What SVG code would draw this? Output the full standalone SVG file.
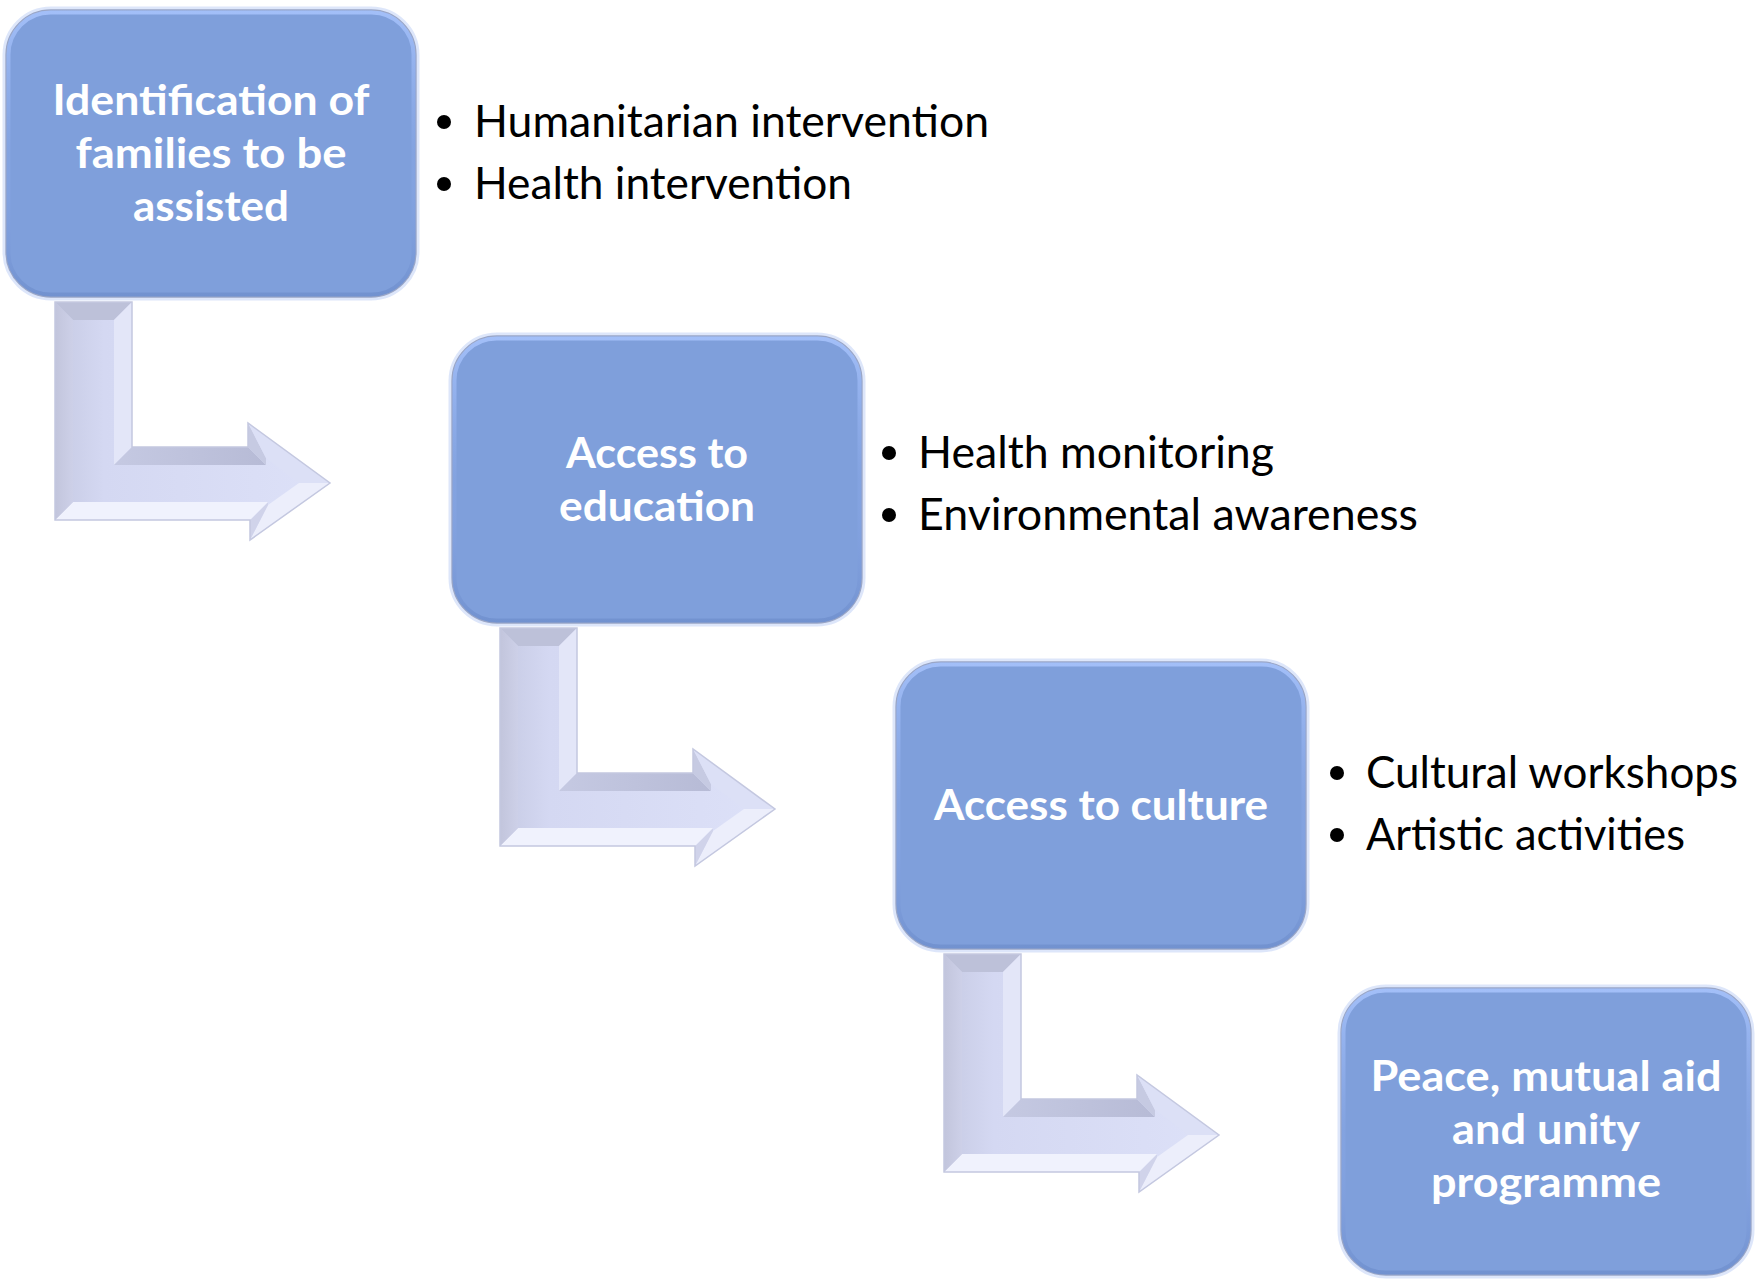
<svg xmlns="http://www.w3.org/2000/svg" xmlns:xlink="http://www.w3.org/1999/xlink" width="1758" height="1286" viewBox="0 0 1758 1286">
  <defs>
    <style>
      .box-glow { fill: none; stroke: #CFDCF8; stroke-width: 7; opacity: 0.7; }
      .box { fill: #7F9FDB; stroke: #9AA6C6; stroke-width: 1.3; }
      .box-inner { fill: none; stroke: url(#innerEdge); stroke-width: 4; }
      .label { font-family: Lato, "Open Sans", "Liberation Sans", sans-serif; font-weight: 700; font-size: 42px; fill: #FFFFFF; text-anchor: middle; }
      .item { font-family: Lato, "Open Sans", "Liberation Sans", sans-serif; font-weight: 400; font-size: 45px; fill: #000000; }
      .dot { fill: #000000; }
    </style>
    <linearGradient id="innerEdge" x1="0" y1="0" x2="0" y2="1">
      <stop offset="0" stop-color="#A6C2FB" stop-opacity="0.9"/>
      <stop offset="0.5" stop-color="#90AEEE" stop-opacity="0.25"/>
      <stop offset="1" stop-color="#7090CE" stop-opacity="0.85"/>
    </linearGradient>
    <linearGradient id="arrowFace" x1="0" y1="0" x2="1" y2="0">
      <stop offset="0" stop-color="#C6CAE3"/>
      <stop offset="0.18" stop-color="#D4D8F2"/>
      <stop offset="1" stop-color="#DDE1F8"/>
    </linearGradient>
    <linearGradient id="leftBevel" x1="0" y1="0" x2="1" y2="0">
      <stop offset="0" stop-color="#C2C5DC"/>
      <stop offset="1" stop-color="#CDD0E8"/>
    </linearGradient>
    <linearGradient id="shaftTop" x1="0" y1="0" x2="1" y2="0">
      <stop offset="0" stop-color="#C5C9E2"/>
      <stop offset="1" stop-color="#B7BBD6"/>
    </linearGradient>
    <g id="bentArrow">
      <polygon points="0,0 77,0 77,145 193,145 193,121 275,181 195,238 195,218 0,218" fill="url(#arrowFace)"/>
      <polygon points="0,0 77,0 59,18 18,18" fill="#BDC1D9"/>
      <polygon points="77,0 77,145 59,163 59,18" fill="#E3E6F8"/>
      <polygon points="77,145 193,145 211,163 59,163" fill="url(#shaftTop)"/>
      <polygon points="193,145 193,121 211,156 211,163" fill="#C6CAE2"/>
      <polygon points="193,121 275,181 244,181 211,156" fill="#DCE0F6"/>
      <polygon points="275,181 195,238 213,203 244,181" fill="#ECEEFB"/>
      <polygon points="195,238 195,218 213,200 213,203" fill="#D0D3EA"/>
      <polygon points="195,218 0,218 18,200 213,200" fill="#F0F2FD"/>
      <polygon points="0,218 0,0 18,18 18,200" fill="url(#leftBevel)"/>
      <polygon points="0,0 77,0 77,145 193,145 193,121 275,181 195,238 195,218 0,218" fill="none" stroke="#C4C8E0" stroke-width="1.5"/>
    </g>
  </defs>

  <rect x="0" y="0" width="1758" height="1286" fill="#FFFFFF"/>

  <g id="connectors">
    <use xlink:href="#bentArrow" href="#bentArrow" transform="translate(55,302)"/>
    <use xlink:href="#bentArrow" href="#bentArrow" transform="translate(500,628)"/>
    <use xlink:href="#bentArrow" href="#bentArrow" transform="translate(944,954)"/>
  </g>

  <g id="node-identification">
    <rect class="box-glow" x="6" y="10" width="410" height="287" rx="45"/>
    <rect class="box" x="6" y="10" width="410" height="287" rx="45"/>
    <rect class="box-inner" x="8.5" y="12.5" width="405" height="282" rx="42"/>
    <text class="label" x="211" y="115" textLength="317" lengthAdjust="spacingAndGlyphs">Identification of</text>
    <text class="label" x="211" y="168" textLength="271" lengthAdjust="spacingAndGlyphs">families to be</text>
    <text class="label" x="211" y="221" textLength="156" lengthAdjust="spacingAndGlyphs">assisted</text>
  </g>

  <g id="list-1">
    <circle class="dot" cx="444" cy="122" r="7"/>
    <text class="item" x="474" y="137" textLength="515" lengthAdjust="spacingAndGlyphs">Humanitarian intervention</text>
    <circle class="dot" cx="444" cy="184" r="7"/>
    <text class="item" x="474" y="199" textLength="378" lengthAdjust="spacingAndGlyphs">Health intervention</text>
  </g>

  <g id="node-education">
    <rect class="box-glow" x="452" y="336" width="410" height="287" rx="45"/>
    <rect class="box" x="452" y="336" width="410" height="287" rx="45"/>
    <rect class="box-inner" x="454.5" y="338.5" width="405" height="282" rx="42"/>
    <text class="label" x="657" y="468" textLength="182" lengthAdjust="spacingAndGlyphs">Access to</text>
    <text class="label" x="657" y="521" textLength="196" lengthAdjust="spacingAndGlyphs">education</text>
  </g>

  <g id="list-2">
    <circle class="dot" cx="889" cy="453" r="7"/>
    <text class="item" x="918" y="468" textLength="356" lengthAdjust="spacingAndGlyphs">Health monitoring</text>
    <circle class="dot" cx="889" cy="515" r="7"/>
    <text class="item" x="918" y="530" textLength="500" lengthAdjust="spacingAndGlyphs">Environmental awareness</text>
  </g>

  <g id="node-culture">
    <rect class="box-glow" x="896" y="662" width="410" height="287" rx="45"/>
    <rect class="box" x="896" y="662" width="410" height="287" rx="45"/>
    <rect class="box-inner" x="898.5" y="664.5" width="405" height="282" rx="42"/>
    <text class="label" x="1101" y="820" textLength="334" lengthAdjust="spacingAndGlyphs">Access to culture</text>
  </g>

  <g id="list-3">
    <circle class="dot" cx="1337" cy="773" r="7"/>
    <text class="item" x="1366" y="788" textLength="372" lengthAdjust="spacingAndGlyphs">Cultural workshops</text>
    <circle class="dot" cx="1337" cy="835" r="7"/>
    <text class="item" x="1366" y="850" textLength="319" lengthAdjust="spacingAndGlyphs">Artistic activities</text>
  </g>

  <g id="node-peace">
    <rect class="box-glow" x="1341" y="988" width="410" height="287" rx="45"/>
    <rect class="box" x="1341" y="988" width="410" height="287" rx="45"/>
    <rect class="box-inner" x="1343.5" y="990.5" width="405" height="282" rx="42"/>
    <text class="label" x="1546" y="1091" textLength="351" lengthAdjust="spacingAndGlyphs">Peace, mutual aid</text>
    <text class="label" x="1546" y="1144" textLength="188" lengthAdjust="spacingAndGlyphs">and unity</text>
    <text class="label" x="1546" y="1197" textLength="230" lengthAdjust="spacingAndGlyphs">programme</text>
  </g>
</svg>
